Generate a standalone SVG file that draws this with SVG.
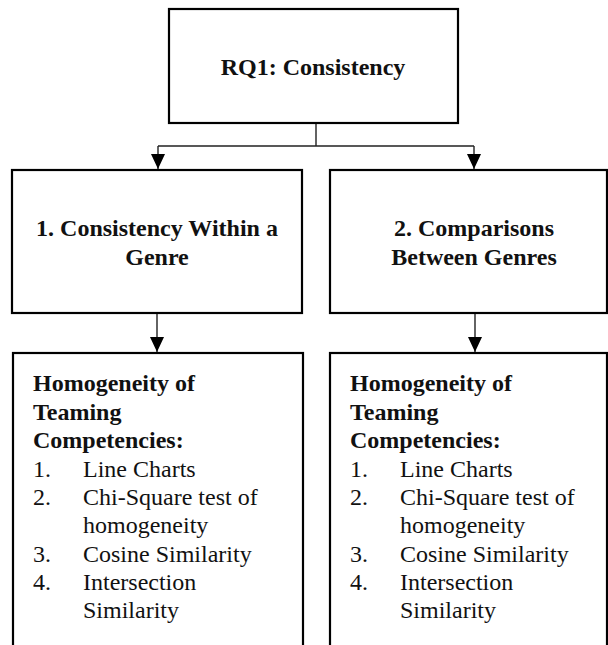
<svg xmlns="http://www.w3.org/2000/svg" width="608" height="645" viewBox="0 0 608 645">
  <defs>
    <style>
      .box { fill: #fff; stroke: #000; stroke-width: 2.2; }
      .link { fill: none; stroke: #222; stroke-width: 1.4; }
      .head { font-weight: bold; }
      .mid { text-anchor: middle; }
    </style>
    <marker id="arrow" markerUnits="userSpaceOnUse" markerWidth="15" markerHeight="14" refX="15" refY="7" orient="auto" viewBox="0 0 15 14">
      <path d="M0,0 L15,7 L0,14 Z" fill="#000"/>
    </marker>
  </defs>
  <rect width="608" height="645" fill="#fff"/>

  <!-- connectors -->
  <g id="connectors">
    <path class="link" d="M316,123 V146 M158,146 H474"/>
    <path class="link" d="M158,146 V169" marker-end="url(#arrow)"/>
    <path class="link" d="M474,146 V169" marker-end="url(#arrow)"/>
    <path class="link" d="M157,313 V352" marker-end="url(#arrow)"/>
    <path class="link" d="M475,313 V352" marker-end="url(#arrow)"/>
  </g>

  <g font-family="Liberation Serif, Times New Roman, DejaVu Serif, serif" font-size="24" fill="#111">
    <!-- research question -->
    <g id="rq1">
      <rect class="box" x="169" y="9" width="289" height="114"/>
      <text class="head mid" x="313" y="75">RQ1: Consistency</text>
    </g>

    <!-- first branch -->
    <g id="within-genre">
      <rect class="box" x="12" y="170" width="290" height="143"/>
      <text class="head mid" x="157" y="236">1. Consistency Within a</text>
      <text class="head mid" x="157" y="265">Genre</text>
    </g>

    <!-- second branch -->
    <g id="between-genres">
      <rect class="box" x="330" y="170" width="277" height="143"/>
      <text class="head mid" x="474" y="236">2. Comparisons</text>
      <text class="head mid" x="474" y="265">Between Genres</text>
    </g>

    <!-- methods under first branch -->
    <g id="methods-within">
      <rect class="box" x="13" y="353" width="290" height="310"/>
      <text class="head" x="33" y="391">Homogeneity of</text>
      <text class="head" x="33" y="419.5">Teaming</text>
      <text class="head" x="33" y="448">Competencies:</text>
      <text x="33" y="476.5">1.</text>
      <text x="83" y="476.5">Line Charts</text>
      <text x="33" y="505">2.</text>
      <text x="83" y="505">Chi-Square test of</text>
      <text x="83" y="533">homogeneity</text>
      <text x="33" y="561.5">3.</text>
      <text x="83" y="561.5">Cosine Similarity</text>
      <text x="33" y="590">4.</text>
      <text x="83" y="590">Intersection</text>
      <text x="83" y="618">Similarity</text>
    </g>

    <!-- methods under second branch -->
    <g id="methods-between">
      <rect class="box" x="330" y="353" width="277" height="310"/>
      <text class="head" x="350" y="391">Homogeneity of</text>
      <text class="head" x="350" y="419.5">Teaming</text>
      <text class="head" x="350" y="448">Competencies:</text>
      <text x="350" y="476.5">1.</text>
      <text x="400" y="476.5">Line Charts</text>
      <text x="350" y="505">2.</text>
      <text x="400" y="505">Chi-Square test of</text>
      <text x="400" y="533">homogeneity</text>
      <text x="350" y="561.5">3.</text>
      <text x="400" y="561.5">Cosine Similarity</text>
      <text x="350" y="590">4.</text>
      <text x="400" y="590">Intersection</text>
      <text x="400" y="618">Similarity</text>
    </g>
  </g>
</svg>
